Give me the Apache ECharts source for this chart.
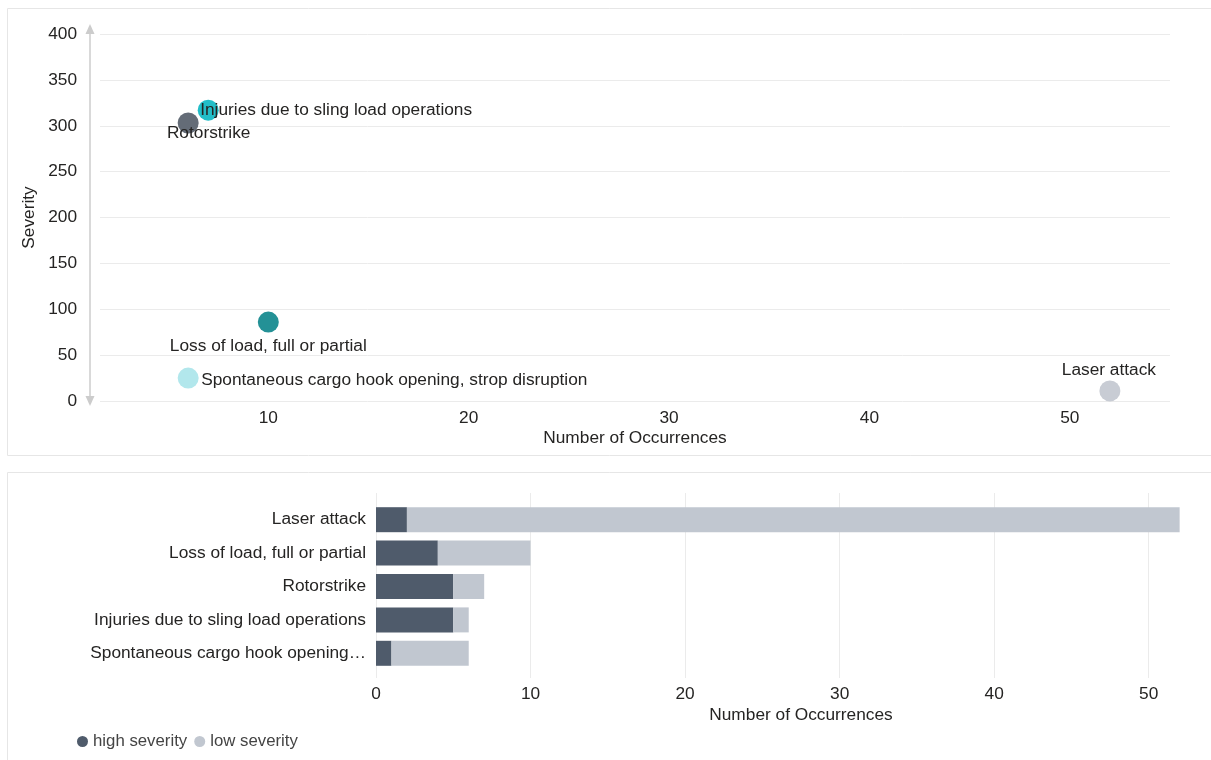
<!DOCTYPE html>
<html>
<head>
<meta charset="utf-8">
<script src="https://cdn.jsdelivr.net/npm/echarts@6/dist/echarts.min.js"></script>
<style>
html,body{margin:0;padding:0;overflow:hidden;background:#fff;}
#c{width:1211px;height:760px;}
</style>
</head>
<body>
<div id="c"></div>
<script>
// ---- data ----
const scatterNames = ['Rotorstrike', 'Injuries due to sling load operations', 'Loss of load, full or partial', 'Spontaneous cargo hook opening, strop disruption', 'Laser attack'];
const scatterOccurrences = [6, 7, 10, 6, 52];
const scatterSeverity = [303, 317, 86, 25, 11];

const barCategories = ['Laser attack', 'Loss of load, full or partial', 'Rotorstrike', 'Injuries due to sling load operations', 'Spontaneous cargo hook opening, strop disruption'];
const highSeverity = [2, 4, 5, 5, 1];
const lowSeverity = [50, 6, 2, 1, 5];

const seriesNames = ['high severity', 'low severity'];

// ---- styles ----
const FS = 17.3;
const FONT = '"Liberation Sans", Arial, sans-serif';
const TXT = '#252423';
const scatterColors = ['#646c77', '#22bec8', '#249196', '#b2e7ec', '#c8ccd4'];
// label placement relative to symbol bounding box (symbol size 21)
const scatterLabelPlacement = [
  {position: [31, 21], align: 'center', verticalAlign: 'middle'},
  {position: [2.5, 10.5], align: 'left', verticalAlign: 'middle'},
  {position: [10.5, 35], align: 'center', verticalAlign: 'middle'},
  {position: [23.5, 13], align: 'left', verticalAlign: 'middle'},
  {position: [9.5, -10.5], align: 'center', verticalAlign: 'middle'}
];
const barColors = ['#4f5b6b', '#c1c7d0'];

const scatterData = scatterNames.map((n, i) => ({
  name: n,
  value: [scatterOccurrences[i], scatterSeverity[i]],
  itemStyle: {color: scatterColors[i], opacity: 1},
  label: Object.assign({show: true, formatter: '{b}', color: TXT, fontFamily: FONT, fontSize: FS, textBorderWidth: 0}, scatterLabelPlacement[i])
}));

const chart = echarts.init(document.getElementById('c'), null, {renderer: 'canvas'});
chart.setOption({
  backgroundColor: '#ffffff',
  animation: false,
  textStyle: {fontFamily: FONT, fontSize: FS, color: TXT},
  graphic: [
    {type: 'rect', shape: {x: 7.5, y: 8.5, width: 1300, height: 447}, style: {fill: 'none', stroke: '#e6e6e6', lineWidth: 1}, silent: true, z: -10},
    {type: 'rect', shape: {x: 7.5, y: 472.5, width: 1300, height: 400}, style: {fill: 'none', stroke: '#e6e6e6', lineWidth: 1}, silent: true, z: -10}
  ],
  legend: {
    data: seriesNames,
    left: 77, top: 733,
    icon: 'circle', itemWidth: 11, itemHeight: 11, itemGap: 7,
    textStyle: {fontFamily: FONT, fontSize: 16.8, color: '#444'},
    padding: 0
  },
  grid: [
    {left: 100, top: 34, width: 1070, height: 367, outerBoundsMode: 'none', containLabel: false},
    {left: 376, top: 503, width: 850, height: 167, outerBoundsMode: 'none', containLabel: false},
    {left: 376, top: 493, width: 850, height: 185, outerBoundsMode: 'none', containLabel: false}
  ],
  xAxis: [
    {
      gridIndex: 0, type: 'value', min: 1.6, max: 55,
      name: 'Number of Occurrences', nameLocation: 'middle', nameGap: 29,
      nameTextStyle: {fontFamily: FONT, fontSize: FS, color: TXT},
      axisLine: {show: false}, axisTick: {show: false}, splitLine: {show: false},
      axisLabel: {showMinLabel: false, showMaxLabel: false, fontFamily: FONT, fontSize: FS, color: TXT, margin: 9}
    },
    {
      gridIndex: 1, type: 'value', min: 0, max: 55, interval: 10,
      axisLine: {show: false}, axisTick: {show: false}, splitLine: {show: false},
      axisLabel: {show: false}
    },
    {
      gridIndex: 2, type: 'value', min: 0, max: 55, interval: 10,
      name: 'Number of Occurrences', nameLocation: 'middle', nameGap: 29,
      nameTextStyle: {fontFamily: FONT, fontSize: FS, color: TXT},
      axisLine: {show: false}, axisTick: {show: false},
      splitLine: {show: true, lineStyle: {color: '#ebebeb', width: 1}},
      axisLabel: {showMaxLabel: false, fontFamily: FONT, fontSize: FS, color: TXT, margin: 8}
    }
  ],
  yAxis: [
    {
      gridIndex: 0, type: 'value', min: 0, max: 400, interval: 50, offset: 10,
      name: 'Severity', nameLocation: 'middle', nameGap: 46,
      nameTextStyle: {fontFamily: FONT, fontSize: FS, color: TXT},
      axisLine: {show: true, lineStyle: {color: '#cccccc', width: 1.5}, symbol: ['triangle', 'triangle'], symbolSize: [9, 10], symbolOffset: [0, 5]},
      axisTick: {show: false},
      splitLine: {show: true, lineStyle: {color: '#ebebeb', width: 1}},
      axisLabel: {fontFamily: FONT, fontSize: FS, color: TXT, margin: 13}
    },
    {
      gridIndex: 1, type: 'category', data: barCategories, inverse: true,
      axisLine: {show: false}, axisTick: {show: false}, splitLine: {show: false},
      axisLabel: {fontFamily: FONT, fontSize: FS, color: TXT, margin: 10, width: 279, overflow: 'truncate', ellipsis: '…'}
    },
    {
      gridIndex: 2, type: 'value', show: false
    }
  ],
  series: [
    {
      type: 'scatter', xAxisIndex: 0, yAxisIndex: 0,
      symbolSize: 21,
      data: scatterData,
      itemStyle: {opacity: 1},
      z: 5
    },
    {
      name: seriesNames[0], type: 'bar', xAxisIndex: 1, yAxisIndex: 1, stack: 'sev',
      data: highSeverity, barWidth: 25, itemStyle: {color: barColors[0]}
    },
    {
      name: seriesNames[1], type: 'bar', xAxisIndex: 1, yAxisIndex: 1, stack: 'sev',
      data: lowSeverity, barWidth: 25, itemStyle: {color: barColors[1]}
    }
  ]
});
</script>
</body>
</html>
